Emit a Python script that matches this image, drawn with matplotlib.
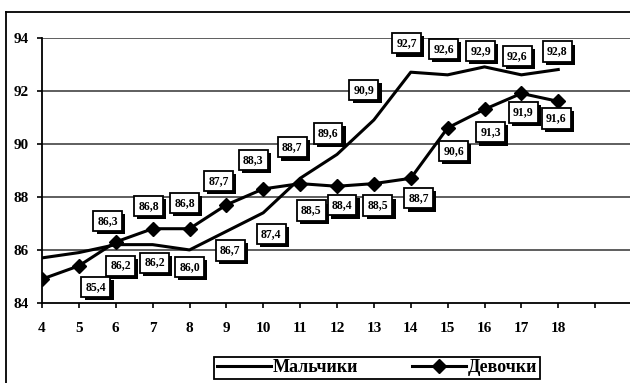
import matplotlib
matplotlib.use("Agg")
import matplotlib.pyplot as plt
from matplotlib.lines import Line2D
from matplotlib import patheffects as pe

# Ages and values
ages = [4, 5, 6, 7, 8, 9, 10, 11, 12, 13, 14, 15, 16, 17, 18]
boys = [85.7, 85.9, 86.2, 86.2, 86.0, 86.7, 87.4, 88.7, 89.6, 90.9, 92.7, 92.6, 92.9, 92.6, 92.8]
girls = [84.9, 85.4, 86.3, 86.8, 86.8, 87.7, 88.3, 88.5, 88.4, 88.5, 88.7, 90.6, 91.3, 91.9, 91.6]
boys_label = "Мальчики"
girls_label = "Девочки"
y_ticks = [84, 86, 88, 90, 92, 94]

# Offsets (pixels, y up) of each value box relative to its point; None = no box
boys_offsets = [None, None, (5, -21), (2, -18), (0, -17), (4, -19), (8, -21), (-8, 31),
                (-9, 21), (-10, 30), (-4, 29), (-4, 26), (-4, 16), (-4, 19), (-1, 18)]
girls_offsets = [None, (17, -21), (-8, 21), (-4, 23), (-5, 26), (-8, 24), (-10, 29), (11, -27),
                 (5, -19), (4, -22), (8, -20), (6, -23), (6, -23), (2, -19), (-2, -17)]

W, H = 630, 383
fig = plt.figure(figsize=(W / 100, H / 100), dpi=100)
serif = ["Liberation Serif", "DejaVu Serif"]

ax_left, ax_right, ax_top, ax_bottom = 42, 632, 37.7, 303
ax = fig.add_axes([ax_left / W, 1 - ax_bottom / H, (ax_right - ax_left) / W, (ax_bottom - ax_top) / H])
ax.set_xlim(4, 20)
ax.set_ylim(84, 94)

for y in y_ticks[1:]:
    ax.axhline(y, color="#333333", lw=1.1, zorder=1)

ax.plot(ages, boys, color="black", lw=2.2, zorder=3, label=boys_label)
ax.plot(ages, girls, color="black", lw=2.2, marker="D", markersize=7, zorder=3, label=girls_label)

for spine in ("top", "right"):
    ax.spines[spine].set_visible(False)
for spine in ("left", "bottom"):
    ax.spines[spine].set_linewidth(1.3)

ax.set_xticks(list(range(4, 21)))
ax.set_xticklabels([str(a) for a in ages] + ["", ""])
ax.set_yticks(y_ticks)
ax.set_yticklabels([str(v) for v in y_ticks])
ax.tick_params(axis="both", direction="out", length=3.5, width=1.2, colors="black")
ax.tick_params(axis="y", pad=6)
ax.tick_params(axis="x", pad=10)
for lbl in ax.get_xticklabels() + ax.get_yticklabels():
    lbl.set_fontfamily(serif)
    lbl.set_fontweight("bold")
    lbl.set_fontsize(11)


def value_box(x, y, off):
    ann = ax.annotate(f"{y:.1f}".replace(".", ","), xy=(x, y), xytext=off,
                      textcoords="offset pixels", ha="center", va="center",
                      fontsize=8.5, fontweight="bold", family=serif, zorder=5,
                      bbox=dict(boxstyle="square,pad=0.35", fc="white", ec="black", lw=1.3))
    ann.get_bbox_patch().set_path_effects([
        pe.SimplePatchShadow(offset=(2.3, -2.3), shadow_rgbFace="black", alpha=1.0),
        pe.Normal()])


for x, y, off in zip(ages, boys, boys_offsets):
    if off is not None:
        value_box(x, y, off)
for x, y, off in zip(ages, girls, girls_offsets):
    if off is not None:
        value_box(x, y, off)

leg = ax.legend(loc="center", bbox_to_anchor=(377 / W, 1 - 368 / H), bbox_transform=fig.transFigure,
                ncol=2, frameon=True, fancybox=False, edgecolor="black", framealpha=1,
                prop=dict(family=serif, weight="bold", size=13), handlelength=3.0,
                handletextpad=0.1, columnspacing=3.0, borderpad=0.15, borderaxespad=0)
leg.get_frame().set_linewidth(1.3)

# Outer frame of the chart area
fig.add_artist(Line2D([6 / W, 6 / W], [1 - 12 / H, 0], transform=fig.transFigure, color="black", lw=1.3))
fig.add_artist(Line2D([6 / W, 1], [1 - 12 / H, 1 - 12 / H], transform=fig.transFigure, color="black", lw=1.3))

fig.savefig("out.png", dpi=100)
